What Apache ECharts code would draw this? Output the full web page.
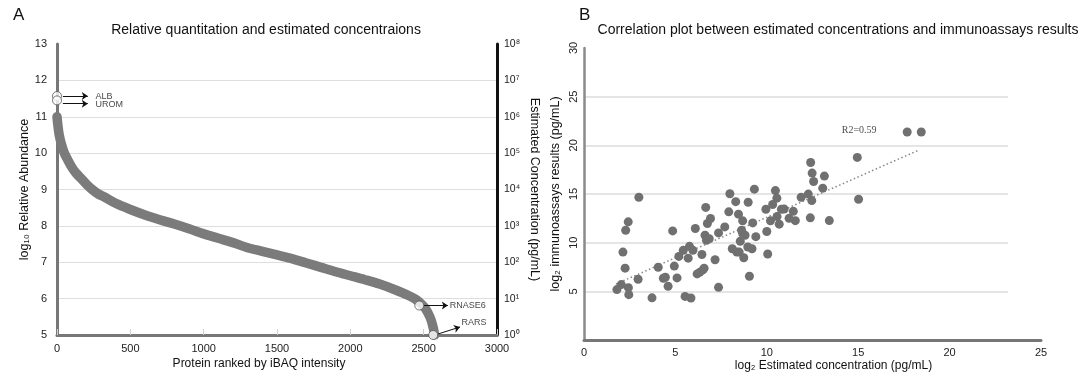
<!DOCTYPE html>
<html>
<head>
<meta charset="utf-8">
<script src="https://cdn.jsdelivr.net/npm/echarts@6/dist/echarts.min.js"></script>
<style>
  html, body { margin: 0; padding: 0; background: #fff; }
  #main { width: 1083px; height: 372px; }
</style>
</head>
<body>
<div id="main"></div>
<script>
// panel A: ranked abundance curve
var rankX = [0, 5, 15, 30, 50, 75, 100, 130, 165, 200, 240, 280, 320, 400, 500, 600, 700, 800, 900, 1000,
             1100, 1200, 1300, 1400, 1500, 1600, 1700, 1800, 1900, 2000, 2100, 2200, 2300, 2400, 2450,
             2480, 2510, 2530, 2550, 2565, 2575];
var abundance = [11.0, 10.8, 10.5, 10.25, 10.0, 9.8, 9.62, 9.45, 9.3, 9.15, 9.0, 8.88, 8.8, 8.62, 8.45, 8.3,
                 8.17, 8.05, 7.92, 7.78, 7.66, 7.54, 7.4, 7.3, 7.2, 7.1, 6.98, 6.86, 6.74, 6.63, 6.52, 6.4,
                 6.25, 6.08, 5.97, 5.87, 5.74, 5.6, 5.42, 5.2, 5.0];

var proteinNames = ['ALB', 'UROM', 'RNASE6', 'RARS'];
var proteinRank = [0, 0, 2470, 2565];
var proteinAbund = [11.57, 11.45, 5.81, 5.0];
var arrowFrom = [[40, 11.57], [40, 11.36], [2500, 5.81], [2600, 5.03]];
var arrowTo = [[210, 11.57], [210, 11.36], [2665, 5.81], [2748, 5.22]];
var labelPos = [[262, 11.57], [262, 11.34], [2678, 5.81], [2758, 5.34]];

var concTickLabels = ['10⁰', '10¹', '10²', '10³', '10⁴', '10⁵', '10⁶', '10⁷', '10⁸'];

// panel B: estimated concentration vs immunoassay
var estConc = [1.8, 2.04, 2.13, 2.28, 2.25, 2.42, 2.43, 2.45, 2.96, 3.0, 3.72, 4.06, 4.34, 4.45, 4.6, 4.85,
               4.94, 5.09, 5.19, 5.43, 5.53, 5.7, 5.77, 5.85, 5.96, 6.09, 6.19, 6.34, 6.45, 6.51, 6.57, 6.66,
               6.62, 6.7, 6.75, 6.85, 6.92, 7.17, 7.36, 7.36, 7.7, 7.92, 7.98, 8.11, 8.3, 8.36, 8.45, 8.49,
               8.55, 8.62, 8.68, 8.68, 8.74, 8.81, 8.96, 8.98, 9.05, 9.19, 9.23, 9.32, 9.4, 9.95, 10.0, 10.05,
               10.2, 10.32, 10.47, 10.55, 10.56, 10.68, 10.8, 10.95, 11.22, 11.45, 11.56, 11.88, 12.27, 12.4,
               12.38, 12.46, 12.48, 12.56, 13.06, 13.15, 13.42, 14.95, 15.02, 17.68, 18.45];
var immuno = [5.18, 5.69, 9.03, 11.28, 7.38, 12.14, 5.38, 4.66, 6.24, 14.67, 4.33, 7.48, 6.34, 6.45, 5.52, 11.21,
              7.59, 6.38, 8.59, 9.21, 4.48, 8.41, 9.62, 4.31, 9.21, 11.45, 6.79, 6.97, 8.79, 7.21, 7.38, 13.62,
              10.76, 10.24, 11.97, 10.41, 12.48, 8.24, 11.0, 5.41, 11.62, 13.17, 15.03, 9.38, 14.21, 9.03, 12.93,
              9.03, 10.14, 11.28, 12.24, 10.93, 8.45, 10.76, 9.55, 14.15, 6.55, 9.38, 12.03, 15.5, 10.62, 13.43,
              11.15, 8.83, 12.24, 13.92, 15.35, 14.57, 12.68, 11.9, 13.43, 13.45, 12.5, 13.22, 12.26, 14.67,
              14.99, 18.24, 12.55, 14.32, 17.15, 16.29, 15.6, 16.84, 12.27, 18.76, 14.46, 21.37, 21.37];
var trendX = [1.75, 18.3];
var trendY = [5.75, 19.5];
var r2Text = 'R2=0.59';
var r2Pos = [14.1, 21.5];

var font = 'Arial, "Liberation Sans", sans-serif';
var chart = echarts.init(document.getElementById('main'));

var curveData = rankX.map(function (r, i) { return [r, abundance[i]]; });
var markerData = proteinRank.map(function (r, i) { return [r, proteinAbund[i]]; });
var arrowData = arrowFrom.map(function (p, i) { return { coords: [p, arrowTo[i]] }; });
var labelData = labelPos.map(function (p, i) { return { value: p, name: proteinNames[i] }; });
var scatterData = estConc.map(function (x, i) { return [x, immuno[i]]; });
var trendData = trendX.map(function (x, i) { return [x, trendY[i]]; });

var leftSplit = ['transparent', '#dedede', '#dedede', '#dedede', '#dedede', '#dedede', '#dedede', '#dedede', 'transparent'];

var option = {
    animation: false,
    textStyle: { fontFamily: font },
    title: [
        { text: 'A', left: 8, top: 2, textStyle: { fontSize: 17, fontWeight: 'normal', color: '#111', fontFamily: font } },
        { text: 'Relative quantitation and estimated concentraions', left: 261, top: 18, textAlign: 'center',
          textStyle: { fontSize: 14, fontWeight: 'normal', color: '#111', fontFamily: font } },
        { text: 'B', left: 574, top: 2, textStyle: { fontSize: 17, fontWeight: 'normal', color: '#111', fontFamily: font } },
        { text: 'Correlation plot between estimated concentrations and immunoassays results', left: 833, top: 18, textAlign: 'center',
          textStyle: { fontSize: 14, fontWeight: 'normal', color: '#111', fontFamily: font } }
    ],
    grid: [
        { left: 57, right: 586, top: 44, bottom: 37, outerBoundsMode: 'none' },
        { left: 584, right: 42, top: 48, bottom: 32, outerBoundsMode: 'none' },
        { left: 584, right: 75, top: 48, bottom: 32, outerBoundsMode: 'none' }
    ],
    xAxis: [
        {
            gridIndex: 0, type: 'value', min: 0, max: 3000, interval: 500,
            axisLine: { lineStyle: { color: '#777', width: 3 } },
            axisTick: { inside: true, length: 6, lineStyle: { color: '#d0d0d0' } },
            axisLabel: { color: '#222', fontSize: 11, margin: 8, formatter: function (v) { return String(v); } },
            splitLine: { show: false },
            name: 'Protein ranked by iBAQ intensity', nameLocation: 'middle', nameGap: 23, nameMoveOverlap: false,
            nameTextStyle: { color: '#111', fontSize: 12, padding: [0, 36, 0, 0] }
        },
        {
            gridIndex: 1, type: 'value', min: 0, max: 25, interval: 5,
            axisLine: { onZero: false, lineStyle: { color: '#777', width: 3 } },
            axisTick: { show: false },
            axisLabel: { color: '#222', fontSize: 11, margin: 7 },
            splitLine: { show: false },
            name: 'log₂ Estimated concentration (pg/mL)', nameLocation: 'middle', nameGap: 19.5, nameMoveOverlap: false,
            nameTextStyle: { color: '#111', fontSize: 12, padding: [0, 0, 0, 42] }
        },
        {
            gridIndex: 2, type: 'value', min: 0, max: 25, show: false
        }
    ],
    yAxis: [
        {
            gridIndex: 0, type: 'value', min: 5, max: 13, interval: 1,
            axisLine: { show: true, lineStyle: { color: '#777', width: 3 } },
            axisTick: { show: false },
            axisLabel: { color: '#222', fontSize: 11, margin: 10 },
            splitLine: { lineStyle: { color: leftSplit, width: 1 } },
            name: 'log₁₀ Relative Abundance', nameLocation: 'middle', nameGap: 25,
            nameTextStyle: { color: '#111', fontSize: 12.5 }
        },
        {
            gridIndex: 0, type: 'value', position: 'right', min: 5, max: 13, interval: 1,
            axisLine: { show: true, lineStyle: { color: '#111', width: 3 } },
            axisTick: { show: false },
            axisLabel: { color: '#222', fontSize: 10.5, margin: 7,
                formatter: function (v) { return concTickLabels[Math.round(v - 5)]; } },
            splitLine: { show: false },
            name: 'Estimated Concentration (pg/mL)', nameLocation: 'middle', nameGap: 31, nameRotate: -90,
            nameTextStyle: { color: '#111', fontSize: 12.5 }
        },
        {
            gridIndex: 1, type: 'value', min: 0, max: 30, interval: 5,
            axisLine: { show: true, onZero: false, lineStyle: { color: '#8a8a8a', width: 2.5 } },
            axisTick: { show: false },
            axisLabel: { color: '#222', fontSize: 11, rotate: 90, margin: 5,
                formatter: function (v) { return v === 0 ? '' : v; } },
            splitLine: { show: false },
            name: 'log₂ immunoassays results (pg/mL)', nameLocation: 'middle', nameGap: 22,
            nameTextStyle: { color: '#111', fontSize: 12.5 }
        },
        {
            gridIndex: 2, type: 'value', min: 0, max: 30, interval: 5,
            axisLine: { show: false }, axisTick: { show: false }, axisLabel: { show: false },
            splitLine: { lineStyle: { color: ['transparent', '#dcdcdc', '#dcdcdc', '#dcdcdc', '#dcdcdc', '#dcdcdc', 'transparent'], width: 1.5 } }
        }
    ],
    series: [
        {
            type: 'line', xAxisIndex: 0, yAxisIndex: 0, data: curveData, smooth: 0.3,
            symbol: 'none', lineStyle: { color: '#7b7b7b', width: 9.5, cap: 'round' }, z: 2
        },
        {
            type: 'lines', coordinateSystem: 'cartesian2d', xAxisIndex: 0, yAxisIndex: 0,
            data: arrowData, symbol: ['none', 'arrow'], symbolSize: [0, 6],
            lineStyle: { color: '#111', width: 1, opacity: 1 }, z: 3
        },
        {
            type: 'scatter', xAxisIndex: 0, yAxisIndex: 0, data: markerData, symbolSize: 9,
            itemStyle: { color: '#fff', borderColor: '#555', borderWidth: 1 }, z: 4
        },
        {
            type: 'scatter', xAxisIndex: 0, yAxisIndex: 0, data: labelData, symbolSize: 0,
            label: { show: true, position: 'right', distance: 0, formatter: '{b}', color: '#111', fontSize: 9, fontFamily: font },
            z: 5
        },
        {
            type: 'scatter', xAxisIndex: 1, yAxisIndex: 2, data: scatterData, symbolSize: 9,
            itemStyle: { color: '#707070', opacity: 1 }, z: 3
        },
        {
            type: 'line', xAxisIndex: 1, yAxisIndex: 2, data: trendData, symbol: 'none',
            lineStyle: { color: '#888', width: 1.5, type: [1.5, 2.5] }, z: 2
        },
        {
            type: 'scatter', xAxisIndex: 1, yAxisIndex: 2, data: [r2Pos], symbolSize: 0,
            label: { show: true, position: 'right', distance: 0, formatter: r2Text, color: '#222',
                     fontSize: 10, fontFamily: '"Liberation Serif", "DejaVu Serif", serif' },
            z: 5
        }
    ]
};
chart.setOption(option);
</script>
</body>
</html>
